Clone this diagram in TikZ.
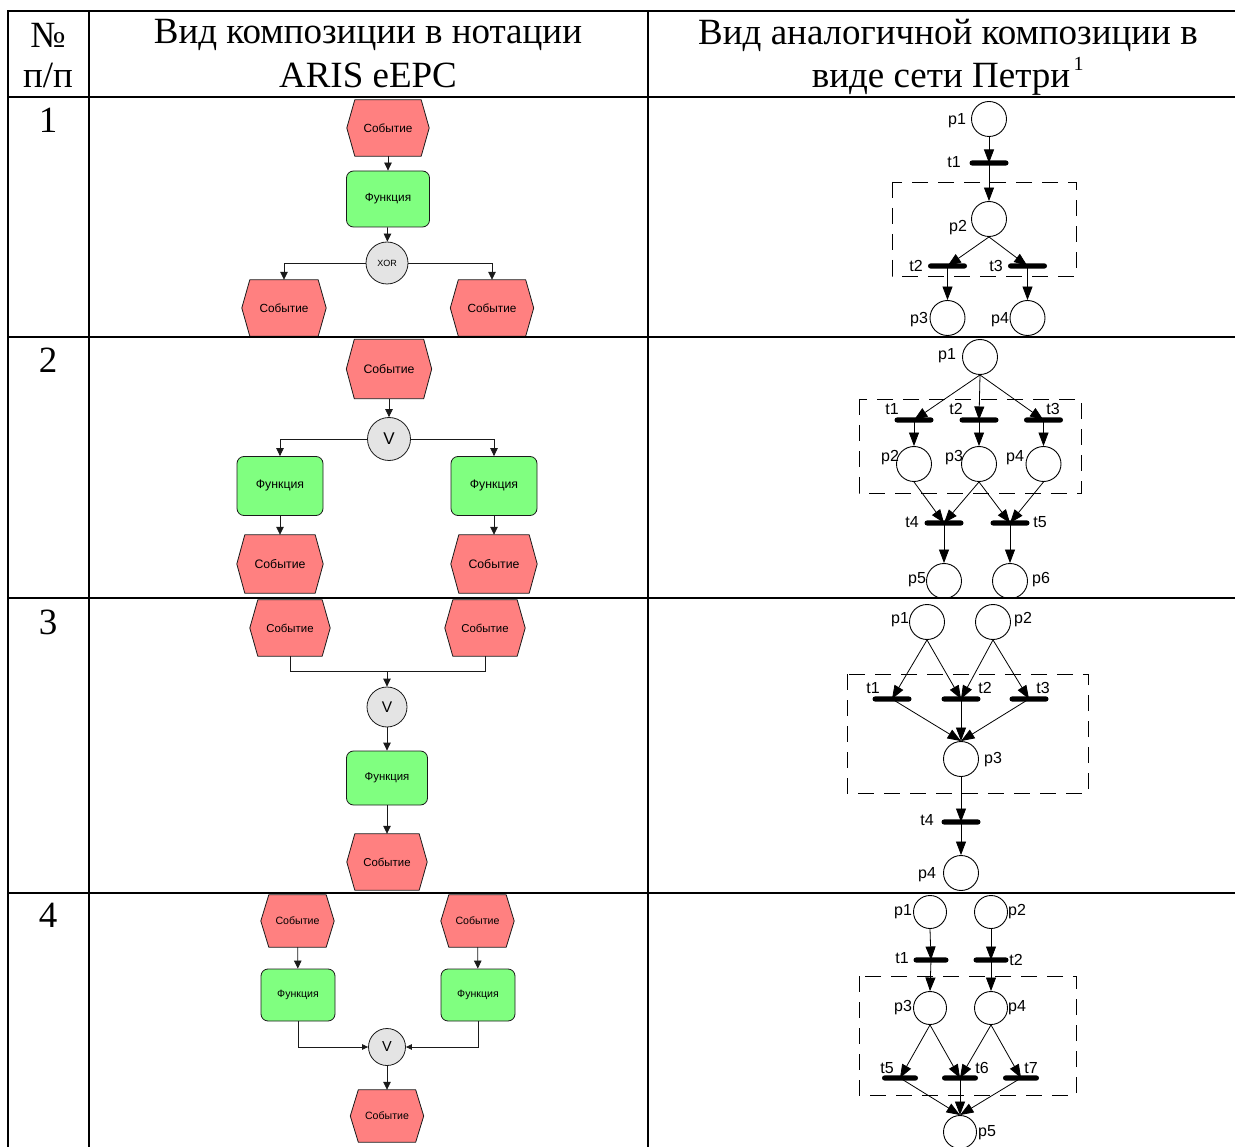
\documentclass[tikz,border=0pt]{standalone}
\usepackage{fontspec}
\setmainfont{Liberation Serif}
\newfontfamily\arial{Liberation Sans}
\usetikzlibrary{arrows.meta}
\pgfdeclarelayer{background}
\pgfsetlayers{background,main}
\definecolor{evred}{HTML}{FF8080}
\definecolor{fngreen}{HTML}{80FF80}
\definecolor{gwgray}{HTML}{E4E4E4}
\definecolor{edge}{HTML}{1A1A1A}

\begin{document}
\begin{tikzpicture}[x=1pt,y=-1pt,
  grid/.style={line width=2pt},
  head/.style={font=\fontsize{37}{40}\selectfont, inner sep=0},
  ev/.style 2 args={inner sep=0, minimum width=#1, minimum height=#2, text=black},
  evshape/.style={fill=evred, draw=edge, line width=0.8pt, line join=round},
  fn/.style 2 args={draw=edge, fill=fngreen, line width=0.8pt, rounded corners=7pt,
    inner sep=0, minimum width=#1, minimum height=#2},
  gw/.style={circle, draw=edge, fill=gwgray, line width=0.8pt, inner sep=0, minimum size=#1},
  fA/.style={font=\arial\fontsize{11.8}{12}\selectfont},
  fB/.style={font=\arial\fontsize{12.3}{13}\selectfont},
  fC/.style={font=\arial\fontsize{11.4}{12}\selectfont},
  fD/.style={font=\arial\fontsize{10.6}{11}\selectfont},
  ea/.style={-{Triangle[length=8pt,width=7.5pt]}, line width=0.8pt, draw=edge},
  eas/.style={-{Triangle[length=6pt,width=5.5pt]}, line width=0.8pt, draw=edge},
  eline/.style={line width=0.8pt, draw=edge},
  pl/.style={circle, draw, line width=0.9pt, inner sep=0, minimum size=#1},
  pl/.default=35pt,
  tr/.style={fill=black, rounded corners=2.6pt, inner sep=0, minimum width=#1, minimum height=5.2pt},
  tr/.default=39pt,
  pa/.style={-{Triangle[length=13.5pt,width=10pt]}, line width=0.8pt},
  plab/.style={font=\arial\fontsize{16}{16}\selectfont, inner sep=0},
  dbox/.style={dash pattern=on 16pt off 10pt, line width=0.9pt}
]
\useasboundingbox (0,0) rectangle (1235,1147);

% ---------------- table frame ----------------
\draw[line width=2.6pt] (7,11) -- (1235,11);
\draw[grid] (8,11) -- (8,1147);
\draw[grid] (89,11) -- (89,1147);
\draw[grid] (648,11) -- (648,1147);
\foreach \yy in {97,337,598,893} \draw[grid] (8,\yy) -- (1235,\yy);

% header
\node[head] (hn1) at (48,35) {№};
\node[head] (hn2) at (48,75) {п/п};
\node[head] (ha1) at (368,35) {Вид композиции в нотации};
\node[head] (ha2) at (368,75) {ARIS eEPC};
\node[head] (hb1) at (948,35) {Вид аналогичной композиции в};
\node[head, anchor=base] (hb2) at (941,88) {виде сети Петри\raisebox{17pt}[0pt][0pt]{\makebox[0pt][l]{\fontsize{20}{20}\selectfont\,1}}};

% row numbers
\node[head] (r1) at (48,120) {1};
\node[head] (r2) at (48,360) {2};
\node[head] (r3) at (48,622) {3};
\node[head] (r4) at (48,915) {4};

% ---------------- eEPC, row 1 ----------------
\node[ev={82pt}{56pt}, fA] (e1a) at (388,128) {Событие};
\node[fn={83pt}{56pt}, fA] (f1a) at (388,199) {Функция};
\node[gw=42pt, font=\arial\fontsize{9}{9}\selectfont] (g1) at (387,263) {XOR};
\node[ev={84pt}{56pt}, fA] (e1b) at (284,308) {Событие};
\node[ev={83pt}{56pt}, fA] (e1c) at (492,308) {Событие};
\draw[ea] (e1a) -- (f1a);
\draw[ea] (f1a) -- (g1);
\draw[ea] (g1) -| (e1b);
\draw[ea] (g1) -| (e1c);

% ---------------- eEPC, row 2 ----------------
\node[ev={85pt}{59pt}, fB] (e2a) at (389,369) {Событие};
\node[gw=43pt, font=\arial\fontsize{17}{17}\selectfont] (g2) at (389,439) {V};
\node[fn={86pt}{59pt}, fB] (f2a) at (280,486) {Функция};
\node[fn={86pt}{59pt}, fB] (f2b) at (494,486) {Функция};
\node[ev={86pt}{58pt}, fB] (e2b) at (280,564) {Событие};
\node[ev={86pt}{58pt}, fB] (e2c) at (494,564) {Событие};
\draw[ea] (e2a) -- (g2);
\draw[ea] (g2) -| (f2a);
\draw[ea] (g2) -| (f2b);
\draw[ea] (f2a) -- (e2b);
\draw[ea] (f2b) -- (e2c);

% ---------------- eEPC, row 3 ----------------
\node[ev={80pt}{56pt}, fC] (e3a) at (290,628) {Событие};
\node[ev={80pt}{56pt}, fC] (e3b) at (485,628) {Событие};
\coordinate (m3) at (387,671);
\node[gw=40pt, font=\arial\fontsize{15.5}{16}\selectfont] (g3) at (387,707) {V};
\node[fn={81pt}{54pt}, fC] (f3) at (387,778) {Функция};
\node[ev={80pt}{56pt}, fC] (e3c) at (387,862) {Событие};
\draw[eline] (e3a) |- (m3);
\draw[eline] (e3b) |- (m3);
\draw[ea] (m3) -- (g3);
\draw[ea] (g3) -- (f3);
\draw[ea] (f3) -- (e3c);

% ---------------- eEPC, row 4 ----------------
\node[ev={73pt}{52pt}, fD] (e4a) at (297.5,921) {Событие};
\node[ev={73pt}{52pt}, fD] (e4b) at (477.5,921) {Событие};
\node[fn={74pt}{52pt}, fD] (f4a) at (298,995) {Функция};
\node[fn={74pt}{52pt}, fD] (f4b) at (478,995) {Функция};
\node[gw=37pt, font=\arial\fontsize{14.5}{15}\selectfont] (g4) at (387,1047) {V};
\node[ev={73pt}{52pt}, fD] (e4c) at (387,1116) {Событие};
\draw[ea] (e4a) -- (f4a);
\draw[ea] (e4b) -- (f4b);
\draw[eas] (f4a) |- (g4);
\draw[eas] (f4b) |- (g4);
\draw[ea] (g4) -- (e4c);

% event hexagons behind their labels
\begin{pgfonlayer}{background}
\foreach \n in {e1a,e1b,e1c,e2a,e2b,e2c,e3a,e3b,e3c,e4a,e4b,e4c}
  \filldraw[evshape] (\n.west) -- ([xshift=8pt]\n.north west) -- ([xshift=-8pt]\n.north east)
    -- (\n.east) -- ([xshift=-8pt]\n.south east) -- ([xshift=8pt]\n.south west) -- cycle;
\end{pgfonlayer}

% ---------------- Petri net, row 1 ----------------
\draw[dbox] (892,182) rectangle (1076,276);
\node[pl] (p11) at (989,119) {};
\node[tr] (t11) at (989,163) {};
\node[pl] (p12) at (989,219) {};
\node[tr] (t12) at (947.5,266) {};
\node[tr] (t13) at (1027.5,266) {};
\node[pl] (p13) at (947.5,318) {};
\node[pl] (p14) at (1027.5,318) {};
\draw[pa] (p11.south) -- (t11.center);
\draw[pa] (t11.center) -- (p12.north);
\draw[pa] (p12.south) -- (t12.center);
\draw[pa] (p12.south) -- (t13.center);
\draw[pa] (t12.center) -- (p13.north);
\draw[pa] (t13.center) -- (p14.north);
\node[plab] (lp11) at (957,121) {p1};
\node[plab] (lt11) at (954,162) {t1};
\node[plab] (lp12) at (958,228) {p2};
\node[plab] (lt12) at (916,266) {t2};
\node[plab] (lt13) at (996,266) {t3};
\node[plab] (lp13) at (919,320) {p3};
\node[plab] (lp14) at (1000,320) {p4};

% ---------------- Petri net, row 2 ----------------
\draw[dbox] (859,399) rectangle (1081,493);
\node[pl] (p21) at (980,357) {};
\node[tr] (t21) at (914,420) {};
\node[tr] (t22) at (979,420) {};
\node[tr] (t23) at (1043.5,420) {};
\node[pl] (p22) at (914,464) {};
\node[pl] (p23) at (979,464) {};
\node[pl] (p24) at (1043.5,464) {};
\node[tr] (t24) at (944,523) {};
\node[tr] (t25) at (1010,523) {};
\node[pl] (p25) at (944,581) {};
\node[pl] (p26) at (1010,581) {};
\draw[pa] (p21.south) -- (t21.center);
\draw[pa] (p21.south) -- (t22.center);
\draw[pa] (p21.south) -- (t23.center);
\draw[pa] (t21.center) -- (p22.north);
\draw[pa] (t22.center) -- (p23.north);
\draw[pa] (t23.center) -- (p24.north);
\draw[pa] (p22.south) -- (t24.center);
\draw[pa] (p23.south) -- (t24.center);
\draw[pa] (p23.south) -- (t25.center);
\draw[pa] (p24.south) -- (t25.center);
\draw[pa] (t24.center) -- (p25.north);
\draw[pa] (t25.center) -- (p26.north);
\node[plab] (lp21) at (947,356) {p1};
\node[plab] (lt21) at (892,409) {t1};
\node[plab] (lt22) at (956,409) {t2};
\node[plab] (lt23) at (1053,409) {t3};
\node[plab] (lp22) at (890,458) {p2};
\node[plab] (lp23) at (954,458) {p3};
\node[plab] (lp24) at (1015,458) {p4};
\node[plab] (lt24) at (912,522) {t4};
\node[plab] (lt25) at (1040,522) {t5};
\node[plab] (lp25) at (917,580) {p5};
\node[plab] (lp26) at (1041,580) {p6};

% ---------------- Petri net, row 3 ----------------
\draw[dbox] (847,674) rectangle (1088,793);
\node[pl] (p31) at (927,622) {};
\node[pl] (p32) at (993,622) {};
\node[tr] (t31) at (892,699) {};
\node[tr] (t32) at (961,699) {};
\node[tr] (t33) at (1029,699) {};
\node[pl] (p33) at (961,759) {};
\node[tr] (t34) at (961,822) {};
\node[pl] (p34) at (961,873) {};
\draw[pa] (p31.south) -- (t31.center);
\draw[pa] (p31.south) -- (t32.center);
\draw[pa] (p32.south) -- (t32.center);
\draw[pa] (p32.south) -- (t33.center);
\draw[pa] (t31.center) -- (p33.north);
\draw[pa] (t32.center) -- (p33.north);
\draw[pa] (t33.center) -- (p33.north);
\draw[pa] (p33.south) -- (t34.center);
\draw[pa] (t34.center) -- (p34.north);
\node[plab] (lp31) at (900,620) {p1};
\node[plab] (lp32) at (1023,620) {p2};
\node[plab] (lt31) at (873,688) {t1};
\node[plab] (lt32) at (985,688) {t2};
\node[plab] (lt33) at (1043,688) {t3};
\node[plab] (lp33) at (993,760) {p3};
\node[plab] (lt34) at (927,820) {t4};
\node[plab] (lp34) at (927,875) {p4};

% ---------------- Petri net, row 4 ----------------
\draw[dbox] (859,976) rectangle (1076,1095);
\node[pl=33pt] (p41) at (930,912) {};
\node[pl=33pt] (p42) at (991,912) {};
\node[tr=35pt] (t41) at (931,960) {};
\node[tr=35pt] (t42) at (991,960) {};
\node[pl=33pt] (p43) at (930,1008) {};
\node[pl=33pt] (p44) at (991,1008) {};
\node[tr=36pt] (t45) at (900,1078) {};
\node[tr=36pt] (t46) at (960,1078) {};
\node[tr=36pt] (t47) at (1021,1078) {};
\node[pl=33pt] (p45) at (960,1132) {};
\draw[pa] (p41.south) -- (t41.center);
\draw[pa] (p42.south) -- (t42.center);
\draw[pa] (t41.center) -- (p43.north);
\draw[pa] (t42.center) -- (p44.north);
\draw[pa] (p43.south) -- (t45.center);
\draw[pa] (p43.south) -- (t46.center);
\draw[pa] (p44.south) -- (t46.center);
\draw[pa] (p44.south) -- (t47.center);
\draw[pa] (t45.center) -- (p45.north);
\draw[pa] (t46.center) -- (p45.north);
\draw[pa] (t47.center) -- (p45.north);
\node[plab] (lp41) at (903,912) {p1};
\node[plab] (lp42) at (1017,912) {p2};
\node[plab] (lt41) at (902,958) {t1};
\node[plab] (lt42) at (1016,960) {t2};
\node[plab] (lp43) at (903,1008) {p3};
\node[plab] (lp44) at (1017,1008) {p4};
\node[plab] (lt45) at (887,1068) {t5};
\node[plab] (lt46) at (982,1068) {t6};
\node[plab] (lt47) at (1031,1068) {t7};
\node[plab] (lp45) at (987,1133) {p5};
\end{tikzpicture}
\end{document}
